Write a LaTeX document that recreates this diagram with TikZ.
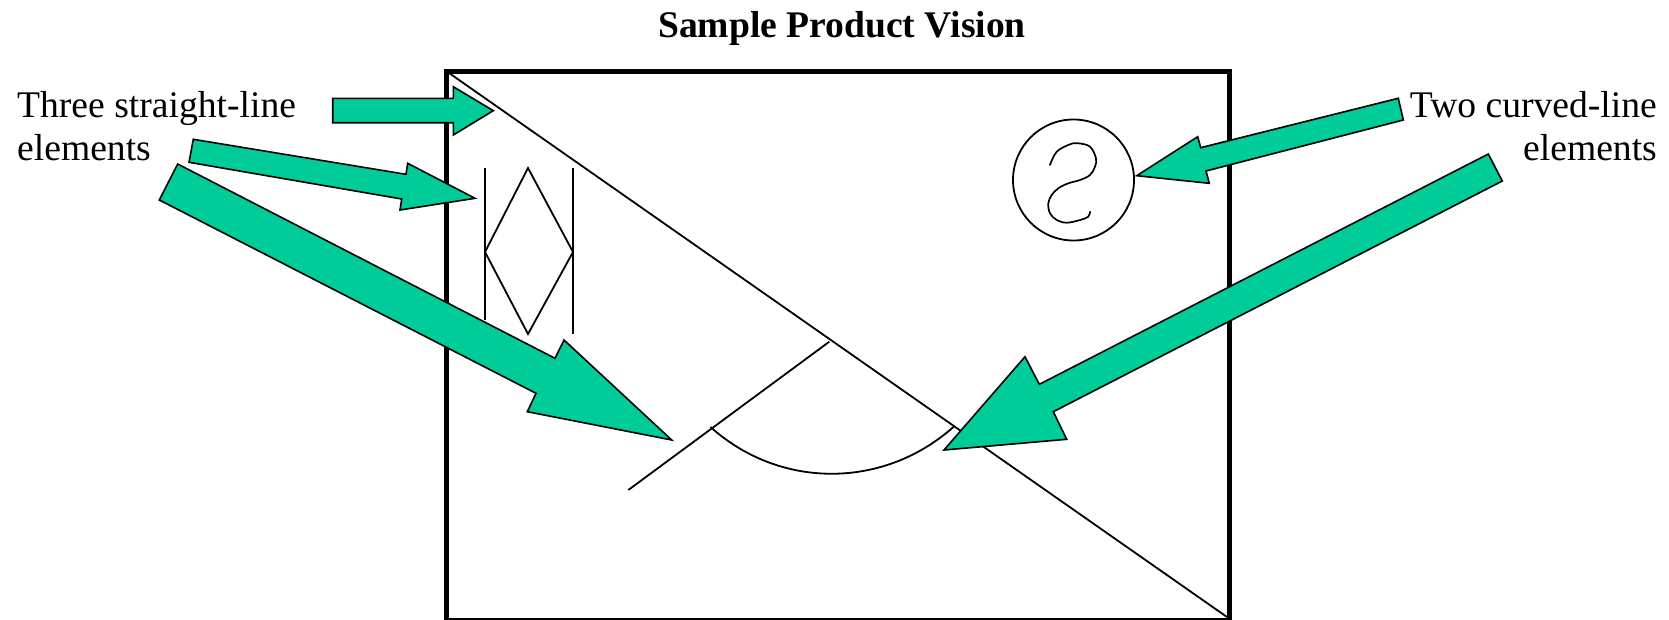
\documentclass[tikz,border=0pt]{standalone}
\usepackage{fontspec}
\setmainfont{Liberation Serif}
\definecolor{arrowgreen}{RGB}{0,204,153}
\begin{document}
\begin{tikzpicture}[x=1pt,y=-1pt,
  blockarrow/.style={fill=arrowgreen,draw=black,line width=1.6pt,line join=miter},
  thinline/.style={draw=black,line width=1.8pt},
  frame/.style={draw=black,line width=5pt},
  label/.style={inner sep=0pt,font=\fontsize{37.6}{43}\selectfont}]
\useasboundingbox (0,0) rectangle (1669,619);
% frame
\draw[frame] (446,71) -- (1229,71) -- (1229,620) -- (446,620) -- cycle;
% diagonal and the second line
\coordinate (dA) at (449,73);
\coordinate (dB) at (1227,617);
\draw[thinline] (dA) -- (dB);
\coordinate (lA) at (628.3,490);
\coordinate (lB) at (829.3,341.7);
\draw[thinline] (lA) -- (lB);
% arc
\coordinate (aA) at (710.5,427);
\coordinate (aB) at (954.5,426);
\draw[thinline] (aA) .. controls (780.5,489.9) and (884.6,489.1) .. (aB);
% vertical lines and diamond
\draw[thinline] (485,168) -- (485,320);
\draw[thinline] (573,168) -- (573,334);
\draw[thinline] (528,168) -- (485,252) -- (528,334) -- (573,252) -- cycle;
% circle and scribble
\node[draw=black,line width=1.8pt,circle,minimum size=121pt,inner sep=0pt] (circ) at (1073.5,180) {};
\draw[line width=1.7pt,line join=round,line cap=round] plot[smooth,tension=0.6] coordinates {
 (1050,165) (1056.7,151.7) (1070,144.3) (1078.3,143.3) (1090,146.7) (1096,158.3)
 (1095,166.7) (1090,175) (1080,180) (1068.3,183.3) (1058.3,188.3) (1051.7,195)
 (1048.3,203.3) (1050,213.3) (1056.7,220) (1066.7,222.7) (1080,220) (1088.3,216.7) (1090,211.7)};
% block arrows
\draw[blockarrow] (332.7,98.3) -- (453.3,98.3) -- (453.3,86.7) -- (493.3,110.7) -- (453.3,135) -- (453.3,122.7) -- (332.7,122.7) -- cycle;
\draw[blockarrow] (193.3,139.3) -- (406,174.3) -- (407.7,163.3) -- (475,198.3) -- (400,210) -- (401.7,199) -- (189,162.3) -- cycle;
\draw[blockarrow] (177.7,164) -- (555,358.3) -- (564,340) -- (671.7,440) -- (527.3,411.7) -- (536,393.3) -- (159.3,200) -- cycle;
\draw[blockarrow] (1398.3,98.3) -- (1200.7,147.7) -- (1197.7,136.7) -- (1136.7,175.7) -- (1209.3,183.3) -- (1206,171) -- (1403.3,120) -- cycle;
\draw[blockarrow] (1488.3,154) -- (1039.3,384.3) -- (1025,356.7) -- (944,450) -- (1066.7,439.3) -- (1053.3,411.7) -- (1502.3,181) -- cycle;
% texts
\node[label,font=\fontsize{37.6}{43}\selectfont\bfseries,anchor=base] (title) at (842,37) {Sample Product Vision};
\node[label,anchor=base west] (l1) at (17,117) {Three straight-line};
\node[label,anchor=base west] (l2) at (17,160) {elements};
\node[label,anchor=base east] (r1) at (1657,117) {Two curved-line};
\node[label,anchor=base east] (r2) at (1657,160) {elements};
\end{tikzpicture}
\end{document}
